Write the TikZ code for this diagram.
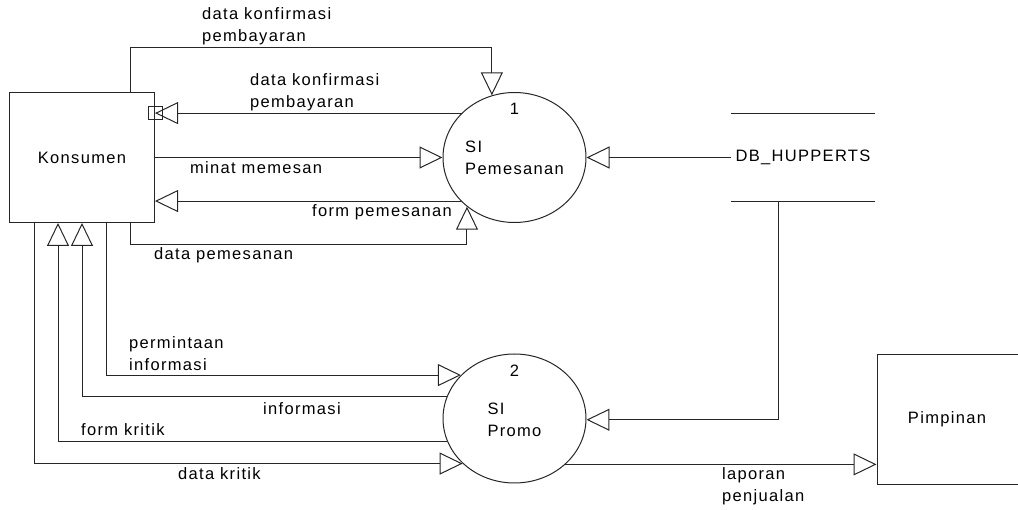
\documentclass[tikz,border=0pt]{standalone}
\usepackage{fontspec}
\setmainfont{Liberation Sans}[LetterSpace=8]
\usetikzlibrary{arrows.meta,shapes.geometric}

\tikzset{
  ln/.style={draw=black!85, line width=1pt},
  flow/.style={ln, -{Triangle[open, length=23pt, width=22pt]}},
  entity/.style={ln, rectangle, inner sep=0pt},
  proc/.style={ln, ellipse, inner sep=0pt, minimum width=143pt, minimum height=130pt},
  txt/.style={inner sep=0pt, font=\fontsize{16.5}{22}\selectfont, align=left},
  dbtxt/.style={txt, minimum width=144pt, minimum height=88pt},
}

\begin{document}
\begin{tikzpicture}[x=1pt, y=-1pt]
\useasboundingbox (0,0) rectangle (1018,510);

% external entities
\node[entity, minimum width=145pt, minimum height=130pt] (kon) at (82,157.5) {};
\node[txt] (konlbl) at (kon.center) {Konsumen};
\node[entity, minimum width=170pt, minimum height=130pt, anchor=west] (pim) at (876.5,419.5) {};
\node[txt] (pimlbl) at ([xshift=70.5pt]pim.west) {Pimpinan};

% processes
\node[proc] (p1) at (514.5,157.5) {};
\node[txt] (p1num) at ([yshift=49pt]p1.center) {1};
\node[txt] (p1lbl) at ([yshift=-0.5pt]p1.center) {SI\\Pemesanan};
\node[proc, minimum height=129pt] (p2) at (514.5,418.5) {};
\node[txt] (p2num) at ([yshift=47.5pt]p2.center) {2};
\node[txt] (p2lbl) at ([yshift=-1pt]p2.center) {SI\\Promo};

% data store
\node[dbtxt] (db) at (803,157.5) {DB\_HUPPERTS};
\draw[ln] (db.north west) -- (db.north east);
\draw[ln] (db.south west) -- (db.south east);

% flows between Konsumen and SI Pemesanan
\draw[flow] ([xshift=121pt]kon.north west) -- ++(0,-44) -| (p1.110.5);
\draw[flow] (p1.140.1) -- (p1.140.1 -| kon.east);
\node[ln, rectangle, inner sep=0pt, minimum width=14pt, minimum height=13pt] (port) at (p1.140.1 -| kon.east) {};
\draw[flow] (kon.east) -- (p1.west);
\draw[flow] (p1.219.9) -- (p1.219.9 -| kon.east);
\draw[flow] ([xshift=121pt]kon.south west) -- ++(0,22) -| (p1.226.2);

% data store to processes
\draw[flow] (db.west) -- (p1.east);
\draw[flow] ([xshift=48pt]db.south west) |- (p2.359.2);

% flows between Konsumen and SI Promo
\draw[flow] ([xshift=97pt]kon.south west) |- (p2.141.1);
\draw[flow] (p2.162.75) -| ([xshift=73pt]kon.south west);
\draw[flow] (p2.199) -| ([xshift=49pt]kon.south west);
\draw[flow] ([xshift=25pt]kon.south west) |- (p2.221.3);

% report to Pimpinan
\draw[flow] (p2.318.7) -- (p2.318.7 -| pim.west);

% flow labels
\node[txt, anchor=west] (l1) at (202,26) {data konfirmasi\\pembayaran};
\node[txt, anchor=west] (l2) at (250,92.5) {data konfirmasi\\pembayaran};
\node[txt, anchor=west] (l3) at (190,168) {minat memesan};
\node[txt, anchor=east] (l4) at (452,212) {form pemesanan};
\node[txt, anchor=west] (l5) at (154,255) {data pemesanan};
\node[txt, anchor=west] (l6) at (129,354) {permintaan\\informasi};
\node[txt, anchor=west] (l7) at (263,409) {informasi};
\node[txt, anchor=west] (l8) at (81,430) {form kritik};
\node[txt, anchor=west] (l9) at (178,474) {data kritik};
\node[txt, anchor=west] (l10) at (722,486) {laporan\\penjualan};
\end{tikzpicture}
\end{document}
